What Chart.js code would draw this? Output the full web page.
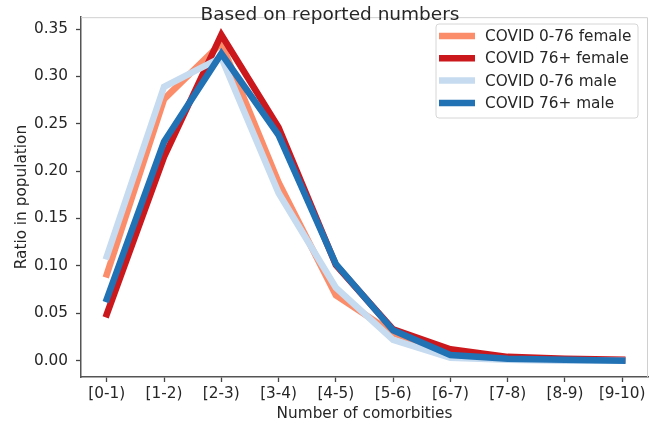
<!DOCTYPE html>
<html>
<head>
<meta charset="utf-8">
<script src="https://cdn.jsdelivr.net/npm/chart.js@4"></script>
<style>
  html, body { margin: 0; padding: 0; background: #ffffff; }
  #wrap { width: 654px; height: 425px; position: relative; }
</style>
</head>
<body>
<div id="wrap"><canvas id="chart" width="654" height="425"></canvas></div>
<script>
// Comorbidity-count bins
const categories = ['[0-1)', '[1-2)', '[2-3)', '[3-4)', '[4-5)', '[5-6)', '[6-7)', '[7-8)', '[8-9)', '[9-10)'];

// Share of each group with the given number of comorbidities
const female_0_76 = [0.091, 0.276, 0.335, 0.188, 0.069, 0.029, 0.007, 0.002, 0.001, 0.000];
const female_76p  = [0.049, 0.215, 0.344, 0.246, 0.101, 0.033, 0.012, 0.004, 0.002, 0.001];
const male_0_76   = [0.110, 0.289, 0.320, 0.177, 0.077, 0.022, 0.003, 0.001, 0.000, 0.000];
const male_76p    = [0.065, 0.231, 0.324, 0.238, 0.102, 0.032, 0.006, 0.002, 0.001, 0.000];

const yTicks = [0, 0.05, 0.10, 0.15, 0.20, 0.25, 0.30, 0.35];

const FONT = 'DejaVu Sans';
const FS = 15.3;
const TEXT = '#262626';

const series = [
  { label: 'COVID 0-76 female', data: female_0_76, color: '#fc8d6a', order: 4 },
  { label: 'COVID 76+ female',  data: female_76p,  color: '#cb181d', order: 3 },
  { label: 'COVID 0-76 male',   data: male_0_76,   color: '#c6dbef', order: 2 },
  { label: 'COVID 76+ male',    data: male_76p,    color: '#2171b5', order: 1 }
];

const datasets = series.map(s => ({
  label: s.label,
  data: s.data.map((v, i) => ({ x: i, y: v })),
  borderColor: s.color,
  backgroundColor: s.color,
  borderWidth: 6.5,
  borderJoinStyle: 'miter',
  borderCapStyle: 'square',
  pointRadius: 0,
  tension: 0,
  fill: false,
  order: s.order
}));

// Light top/right frame, figure title and boxed legend inside the plot area
const decorations = {
  id: 'decorations',
  beforeDatasetsDraw(chart) {
    const { ctx, chartArea: a } = chart;
    ctx.save();
    ctx.strokeStyle = '#d0d0d0';
    ctx.lineWidth = 1;
    ctx.beginPath();
    ctx.moveTo(a.left, a.top + 0.5);
    ctx.lineTo(a.right - 0.5, a.top + 0.5);
    ctx.lineTo(a.right - 0.5, a.bottom);
    ctx.stroke();
    ctx.restore();
  },
  afterDraw(chart) {
    const { ctx } = chart;
    ctx.save();
    // title
    ctx.fillStyle = TEXT;
    ctx.font = `18.5px "${FONT}"`;
    ctx.textAlign = 'center';
    ctx.textBaseline = 'middle';
    ctx.fillText('Based on reported numbers', 330, 15);

    // legend
    const bx = 436, by = 24, bw = 202, bh = 94, r = 3;
    ctx.beginPath();
    ctx.moveTo(bx + r, by);
    ctx.arcTo(bx + bw, by, bx + bw, by + bh, r);
    ctx.arcTo(bx + bw, by + bh, bx, by + bh, r);
    ctx.arcTo(bx, by + bh, bx, by, r);
    ctx.arcTo(bx, by, bx + bw, by, r);
    ctx.closePath();
    ctx.fillStyle = 'rgba(255,255,255,0.8)';
    ctx.fill();
    ctx.strokeStyle = '#d6d6d6';
    ctx.lineWidth = 1;
    ctx.stroke();

    ctx.font = `${FS}px "${FONT}"`;
    ctx.textAlign = 'left';
    chart.data.datasets.forEach((ds, i) => {
      const y = 36 + i * 22.3;
      ctx.strokeStyle = ds.borderColor;
      ctx.lineWidth = 6.5;
      ctx.lineCap = 'butt';
      ctx.beginPath();
      ctx.moveTo(439, y);
      ctx.lineTo(475, y);
      ctx.stroke();
      ctx.fillStyle = TEXT;
      ctx.fillText(ds.label, 485, y + 1);
    });
    ctx.restore();
  }
};

new Chart(document.getElementById('chart'), {
  type: 'line',
  data: { datasets },
  plugins: [decorations],
  options: {
    responsive: false,
    animation: false,
    layout: { padding: { top: 15, right: 6, left: 0, bottom: 0 } },
    plugins: { legend: { display: false }, tooltip: { enabled: false }, title: { display: false } },
    scales: {
      x: {
        type: 'linear',
        min: -0.45,
        max: 9.45,
        afterBuildTicks(scale) { scale.ticks = categories.map((_, i) => ({ value: i })); },
        afterFit(scale) { scale.height = 48; },
        ticks: {
          color: TEXT,
          font: { family: FONT, size: FS },
          padding: 3,
          maxRotation: 0,
          autoSkip: false,
          callback: v => categories[v]
        },
        grid: { display: true, drawOnChartArea: false, drawTicks: true, tickLength: 5, color: '#444444', tickWidth: 1.3 },
        border: { display: true, color: '#555555', width: 1.5 },
        title: { display: true, text: 'Number of comorbities', color: TEXT, font: { family: FONT, size: FS }, padding: { top: 0, bottom: 2 } }
      },
      y: {
        type: 'linear',
        min: -0.01726,
        max: 0.3625,
        afterBuildTicks(scale) { scale.ticks = yTicks.map(v => ({ value: v })); },
        afterFit(scale) { scale.width = 81; },
        ticks: {
          color: TEXT,
          font: { family: FONT, size: FS },
          padding: 8,
          callback: v => v.toFixed(2)
        },
        grid: { display: true, drawOnChartArea: false, drawTicks: true, tickLength: 5, color: '#444444', tickWidth: 1.3 },
        border: { display: true, color: '#555555', width: 1.5 },
        title: { display: true, text: 'Ratio in population', color: TEXT, font: { family: FONT, size: FS }, padding: { top: 13, bottom: 0 } }
      }
    }
  }
});
</script>
</body>
</html>
